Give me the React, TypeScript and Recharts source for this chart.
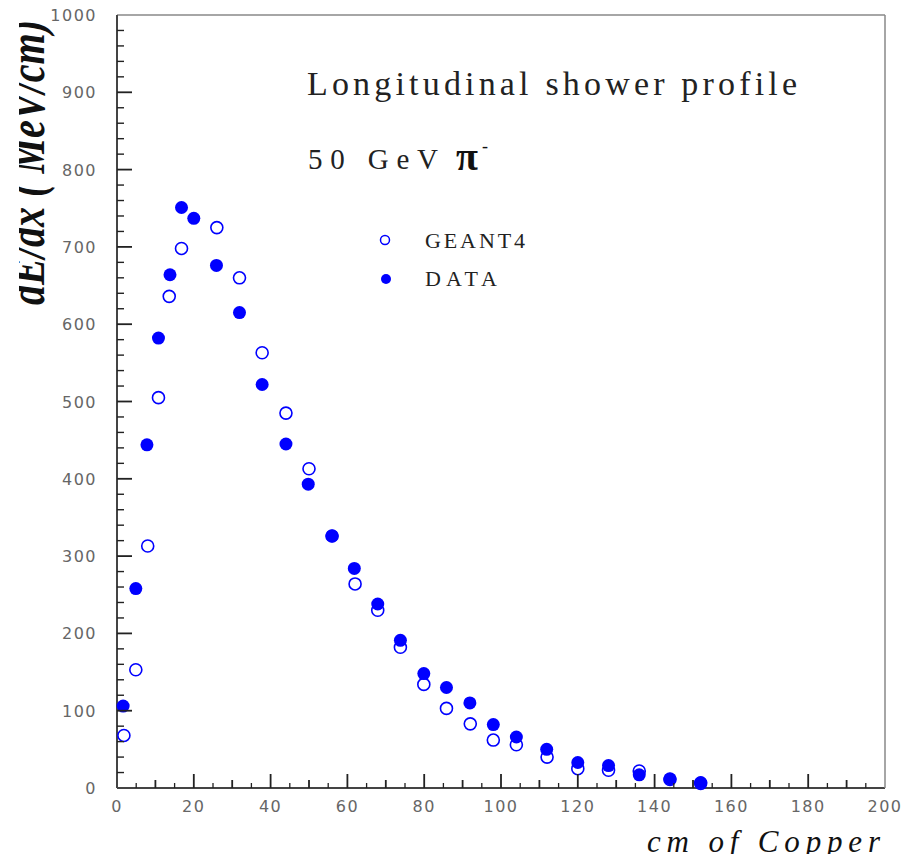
import React from 'react';
import { ScatterChart, Scatter, XAxis, YAxis } from 'recharts';

// cm of copper (x) and dE/dx in MeV/cm (y)
const dataX = [1.6, 4.9, 7.8, 10.8, 13.8, 16.8, 20, 25.9, 31.9, 37.8, 44, 49.8, 56, 61.8, 67.9, 73.8, 79.9, 85.8, 91.9, 98, 104, 111.9, 120, 128, 136, 144, 152];
const dataY = [106, 258, 444, 582, 664, 751, 737, 676, 615, 522, 445, 393, 326, 284, 238, 191, 148, 130, 110, 82, 66, 50, 33, 29, 17, 12, 7];
const geantX = [1.8, 4.9, 8, 10.8, 13.6, 16.8, 26, 31.9, 37.8, 44, 50, 56, 62, 67.9, 73.8, 79.9, 85.8, 92, 98, 104, 112, 120, 128, 136, 144, 152];
const geantY = [68, 153, 313, 505, 636, 698, 725, 660, 563, 485, 413, 326, 264, 230, 182, 134, 103, 83, 62, 56, 40, 25, 23, 22, 11, 6];

// labelled ticks
const xLabels = [0, 20, 40, 60, 80, 100, 120, 140, 160, 180, 200];
const yLabels = [0, 100, 200, 300, 400, 500, 600, 700, 800, 900, 1000];
// tick marks inside the frame: every 5 cm on x, every 20 MeV/cm on y
const xMarks = [5, 10, 15, 20, 25, 30, 35, 40, 45, 50, 55, 60, 65, 70, 75, 80, 85, 90, 95, 100,
  105, 110, 115, 120, 125, 130, 135, 140, 145, 150, 155, 160, 165, 170, 175, 180, 185, 190, 195];
const yMarks = [20, 40, 60, 80, 100, 120, 140, 160, 180, 200, 220, 240, 260, 280, 300, 320, 340, 360, 380,
  400, 420, 440, 460, 480, 500, 520, 540, 560, 580, 600, 620, 640, 660, 680, 700, 720, 740, 760, 780,
  800, 820, 840, 860, 880, 900, 920, 940, 960, 980];

const dataPts = dataX.map((x, i) => ({ x, y: dataY[i] }));
const geantPts = geantX.map((x, i) => ({ x, y: geantY[i] }));

// plot box, same as the chart margins below
const W = 917, H = 862;
const M = { top: 14, right: 31, bottom: 73, left: 116 };
const PL = M.left + 1, PR = W - M.right - 1, PT = M.top + 1, PB = H - M.bottom - 1;
const sx = (v: number) => PL + (v / 200) * (PR - PL);
const sy = (v: number) => PB - (v / 1000) * (PB - PT);

const BLUE = '#0000ff';
const labelFont = { fill: '#666', fontSize: 16, fontFamily: 'DejaVu Sans', letterSpacing: 1.5 };

const OpenDot = (p: any) => <circle cx={p.cx} cy={p.cy} r={6} fill="#fff" stroke={BLUE} strokeWidth={1.6} />;
const FullDot = (p: any) => <circle cx={p.cx} cy={p.cy} r={6.5} fill={BLUE} />;

const XLabel = (p: any) => (
  <text x={p.x} y={p.y} textAnchor="middle" {...labelFont}>{p.payload.value}</text>
);
const YLabel = (p: any) => (
  <text x={p.x} y={p.y + 6} textAnchor="end" {...labelFont}>{p.payload.value}</text>
);

export default function App() {
  return (
    <div style={{ position: 'relative', width: W, height: H, margin: -8, background: '#fff' }}>
      <ScatterChart width={W} height={H} margin={M}>
        <XAxis xAxisId="x" dataKey="x" type="number" domain={[0, 200]} ticks={xLabels} interval={0} height={1}
          tickSize={0} tickMargin={24} tickLine={false}
          axisLine={{ stroke: '#444', strokeWidth: 2 }} tick={<XLabel />} />
        <XAxis xAxisId="xt" orientation="top" type="number" domain={[0, 200]} ticks={[0, 200]} height={1}
          tick={false} tickLine={false} axisLine={{ stroke: '#888', strokeWidth: 1.5 }} />
        <YAxis yAxisId="y" dataKey="y" type="number" domain={[0, 1000]} ticks={yLabels} interval={0} width={1}
          tickSize={0} tickMargin={20} tickLine={false}
          axisLine={{ stroke: '#444', strokeWidth: 2 }} tick={<YLabel />} />
        <YAxis yAxisId="yr" orientation="right" type="number" domain={[0, 1000]} ticks={[0, 1000]} width={1}
          tick={false} tickLine={false} axisLine={{ stroke: '#888', strokeWidth: 1.5 }} />
        <Scatter name="GEANT4" data={geantPts} xAxisId="x" yAxisId="y" shape={OpenDot} isAnimationActive={false} />
        <Scatter name="DATA" data={dataPts} xAxisId="x" yAxisId="y" shape={FullDot} isAnimationActive={false} />
      </ScatterChart>
      <svg width={W} height={H} style={{ position: 'absolute', left: 0, top: 0, pointerEvents: 'none' }}>
        <defs>
          <clipPath id="ylab">
            <rect x={19} y={0} width={60} height={H} />
          </clipPath>
        </defs>
        {xMarks.map((v) => {
          const len = v % 20 === 0 ? 14 : v % 10 === 0 ? 8 : 5;
          const w = v % 10 === 0 ? 1.8 : 1.3;
          return <rect key={'xm' + v} x={sx(v) - w / 2} y={PB - len} width={w} height={len} fill="#222" />;
        })}
        {yMarks.map((v) => {
          const len = v % 100 === 0 ? 15 : 7;
          const w = v % 100 === 0 ? 1.8 : 1.4;
          return <rect key={'ym' + v} x={PL} y={sy(v) - w / 2} width={len} height={w} fill="#222" />;
        })}
        <g clipPath="url(#ylab)">
          <text transform="translate(44,305) rotate(-90)" fontFamily="Liberation Serif" fontStyle="italic"
            fontWeight="bold" fontSize={50} fill="#111" textLength={285} lengthAdjust="spacingAndGlyphs">
            dE/dx ( MeV/cm)
          </text>
        </g>
        <text x={647} y={852} fontFamily="Liberation Serif" fontStyle="italic" fontSize={31} fill="#111"
          textLength={233} lengthAdjust="spacing">cm of Copper</text>
        <text x={307} y={95} fontFamily="Liberation Serif" fontSize={34} fill="#222"
          textLength={490} lengthAdjust="spacing">Longitudinal shower profile</text>
        <text x={308} y={169} fontFamily="Liberation Serif" fontSize={29} fill="#222"
          textLength={130} lengthAdjust="spacing">50 GeV</text>
        <text x={456} y={170} fontFamily="Liberation Serif" fontWeight="bold" fontSize={40} fill="#111">π</text>
        <text x={482} y={152} fontFamily="Liberation Serif" fontSize={18} fill="#111">-</text>
        <circle cx={385} cy={240} r={4.5} fill="#fff" stroke={BLUE} strokeWidth={1.5} />
        <text x={425} y={247.5} fontFamily="Liberation Serif" fontSize={22} fill="#222"
          textLength={100} lengthAdjust="spacing">GEANT4</text>
        <circle cx={386} cy={279} r={5} fill={BLUE} />
        <text x={425} y={286} fontFamily="Liberation Serif" fontSize={22} fill="#222"
          textLength={72} lengthAdjust="spacing">DATA</text>
      </svg>
    </div>
  );
}
